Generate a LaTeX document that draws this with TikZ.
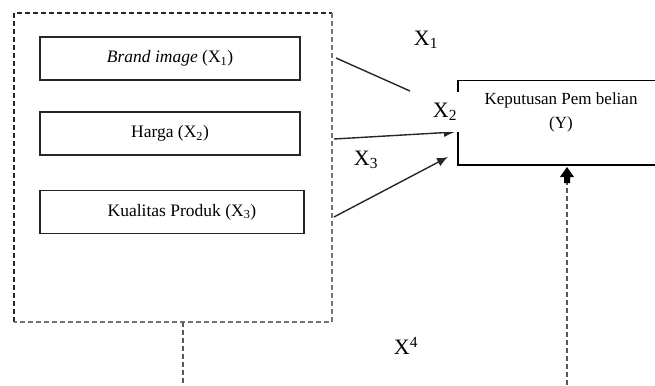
\documentclass[tikz,border=0pt]{standalone}
\usepackage{fontspec}
\setmainfont{Liberation Serif}
\usetikzlibrary{arrows.meta}

\tikzset{
  varbox/.style={draw=black!85, line width=1.5pt, minimum width=260pt, minimum height=43pt,
    inner sep=0pt, font=\fontsize{17.5}{20}\selectfont},
  grpline/.style={line width=1.3pt, dash pattern=on 5pt off 3pt},
  conn/.style={draw=black!85, line width=1.4pt},
  arr/.style={conn, -{Latex[length=11pt,width=9pt]}},
  xlabel/.style={font=\fontsize{22}{24}\selectfont, inner sep=0pt},
}

\begin{document}
\begin{tikzpicture}[x=1pt, y=-1pt]
  \useasboundingbox (0,0) rectangle (655,385);
  \clip (0,0) rectangle (655,385);

  % group of independent variables (dashed frame)
  \coordinate (gtl) at (14,13);
  \coordinate (gbr) at (332,322);
  \draw[grpline, black!85] (gtl |- gbr) -- (gtl) -- (gtl -| gbr);
  \draw[grpline, black!55] (gtl -| gbr) -- (gbr) -- (gtl |- gbr);

  % independent variables
  \node[varbox] (b1) at (170,58.5) {\textit{Brand image} (X\textsubscript{1})};
  \node[varbox] (b2) at (170,133.5) {Harga (X\textsubscript{2})};
  \node[varbox, minimum width=264pt] (b3) at (172,212) {\hspace{20pt}Kualitas Produk (X\textsubscript{3})};

  % dependent variable (box runs past the right edge)
  \node[draw=black, line width=1.5pt, minimum width=220pt, minimum height=84pt, anchor=north west,
        inner sep=0pt] (y) at (457,80) {};
  \node[font=\fontsize{17}{20}\selectfont, align=center] (ytxt) at (561,112)
    {Keputusan Pem belian\\[4pt](Y)};

  % connectors from the variables to Y
  \coordinate (s1) at (336,58);
  \coordinate (e1) at (410,91);
  \coordinate (s2) at (334,139);
  \coordinate (e2) at (455,132);
  \coordinate (s3) at (334,217);
  \coordinate (e3) at (448,157);
  \draw[conn] (s1) -- (e1);
  \draw[arr] (s2) -- (e2);
  \draw[arr] (s3) -- (e3);

  % path labels
  \node[xlabel] (x1) at (426,40) {X\textsubscript{1}};
  \node[xlabel, fill=white, minimum height=40pt, inner xsep=2pt] (x2) at (445,112) {X\textsubscript{2}};
  \node[xlabel] (x3) at (366,160) {X\textsubscript{3}};
  \node[xlabel] (x4) at (406,346) {X\textsuperscript{4}};

  % simultaneous path (dashed) ending in a block arrow under Y
  \coordinate (d1) at (183,385);
  \coordinate (d2) at (567,385);
  \coordinate (tip) at ([yshift=-1.5pt]y.south -| d2);
  \draw[grpline, black!65, line width=1.2pt] (gbr -| d1) -- (d1);
  \draw[grpline, black!65, line width=1.2pt] (d2) -- ([yshift=-15pt]tip);
  \fill[black] (tip) -- ++(7,10) -- ++(-4,0) -- ++(0,6) -- ++(-6,0) -- ++(0,-6) -- ++(-4,0) -- cycle;
\end{tikzpicture}
\end{document}
